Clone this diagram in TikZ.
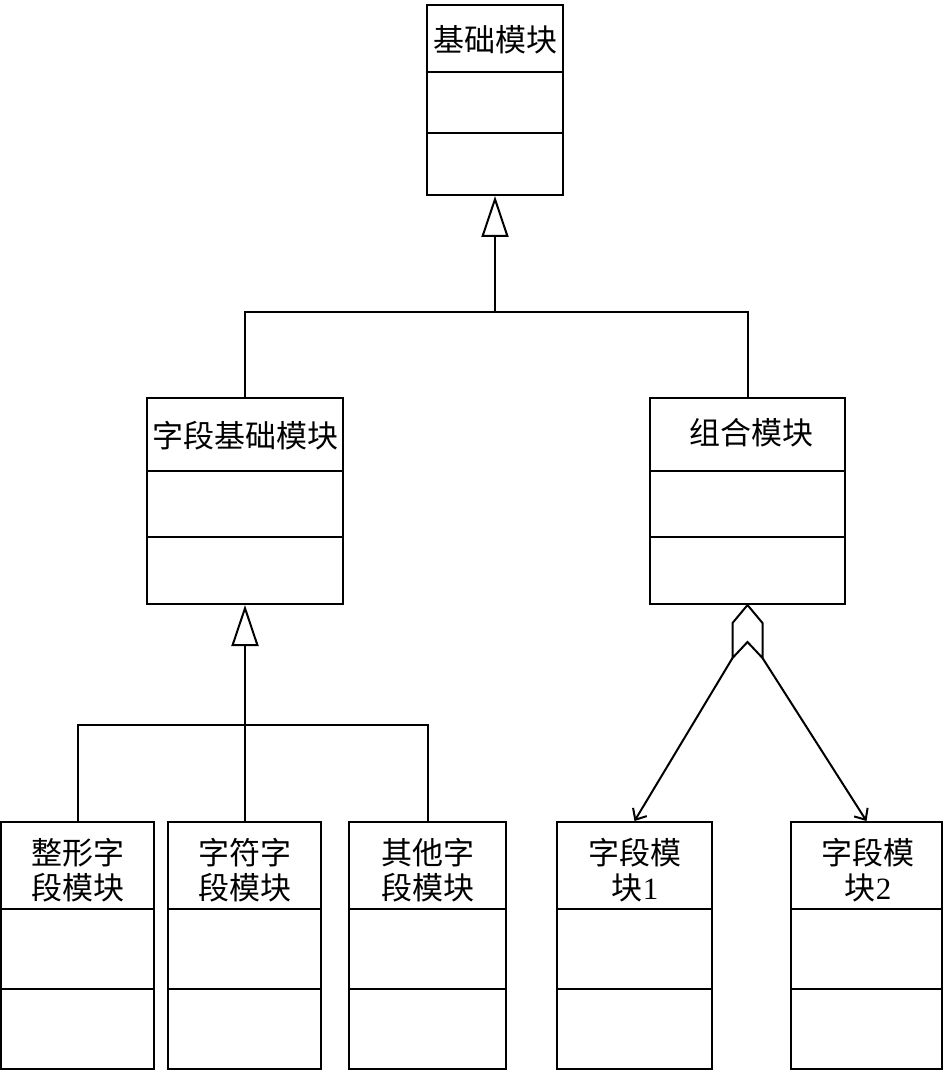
\documentclass[tikz,border=0pt]{standalone}
\usepackage{fontspec}
\setmainfont{Liberation Serif}
\newfontfamily\cjk{Noto Sans CJK SC}
\usetikzlibrary{arrows.meta,calc}
\begin{document}
\begin{tikzpicture}[x=1pt,y=-1pt,
  box/.style={draw,line width=2pt,inner sep=0pt},
  lbl/.style={inner sep=0pt,font=\fontsize{31}{35}\selectfont\cjk,align=center},
  conn/.style={line width=2pt},
  gen/.style={conn,-{Triangle[open,length=41pt,width=27pt,line width=2pt]}},
  agg/.style={conn,-{Straight Barb[length=9pt,width=16pt,line width=2pt]}}]
\useasboundingbox (0,0) rectangle (945,1075);
% boxes: name, left, top, right, bottom, div1, div2
\newcommand{\umlbox}[7]{%
  \node[box,minimum width={(#4-#2)*1pt},minimum height={(#5-#3)*1pt}] (#1) at ({(#2+#4)/2},{(#3+#5)/2}) {};
  \draw[line width=2pt] (#2,#6) -- (#4,#6) (#2,#7) -- (#4,#7);}
\umlbox{b0}{427}{5}{563}{195}{72}{133}
\umlbox{b1}{147}{398}{343}{604}{471}{537}
\umlbox{b2}{650}{398}{845}{604}{471}{537}
\umlbox{b3}{1}{822}{154}{1069}{909}{989}
\umlbox{b4}{168}{822}{321}{1069}{909}{989}
\umlbox{b5}{349}{822}{506}{1069}{909}{989}
\umlbox{b6}{557}{822}{712}{1069}{909}{989}
\umlbox{b7}{791}{822}{942}{1069}{909}{989}
% labels
\node[lbl] (t0) at (495,40) {基础模块};
\node[lbl] (t1) at (245,436) {字段基础模块};
\node[lbl] (t2) at (751,433) {组合模块};
\node[lbl] (t3) at (77.5,870) {整形字\\段模块};
\node[lbl] (t4) at (244.5,870) {字符字\\段模块};
\node[lbl] (t5) at (427.5,870) {其他字\\段模块};
\node[lbl] (t6) at (635,870) {字段模\\块{\rmfamily 1}};
\node[lbl] (t7) at (868,870) {字段模\\块{\rmfamily 2}};
% generalization 1
\coordinate (j1) at (b0.south |- 0,312);
\draw[conn] (b1.north) |- (j1) -| (b2.north);
\draw[gen] (j1) -- (b0.south);
% generalization 2
\coordinate (j2) at (b1.south |- 0,725);
\draw[conn] (b3.north) |- (j2) -| (b5.north);
\draw[conn] (b4.north) -- (b4.north |- j2);
\draw[gen] (j2) -- (b1.south);
% aggregation
\coordinate (dl) at ($(b2.south)+(-15,53)$);
\coordinate (dr) at ($(b2.south)+(15,53)$);
\draw[conn,line join=miter] (b2.south) -- ++(-15,18) -- (dl) -- ++(15,-16) -- (dr) -- ++(0,-35) -- cycle;
\draw[agg] (dl) -- (b6.north);
\draw[agg] (dr) -- (b7.north);
\end{tikzpicture}
\end{document}
